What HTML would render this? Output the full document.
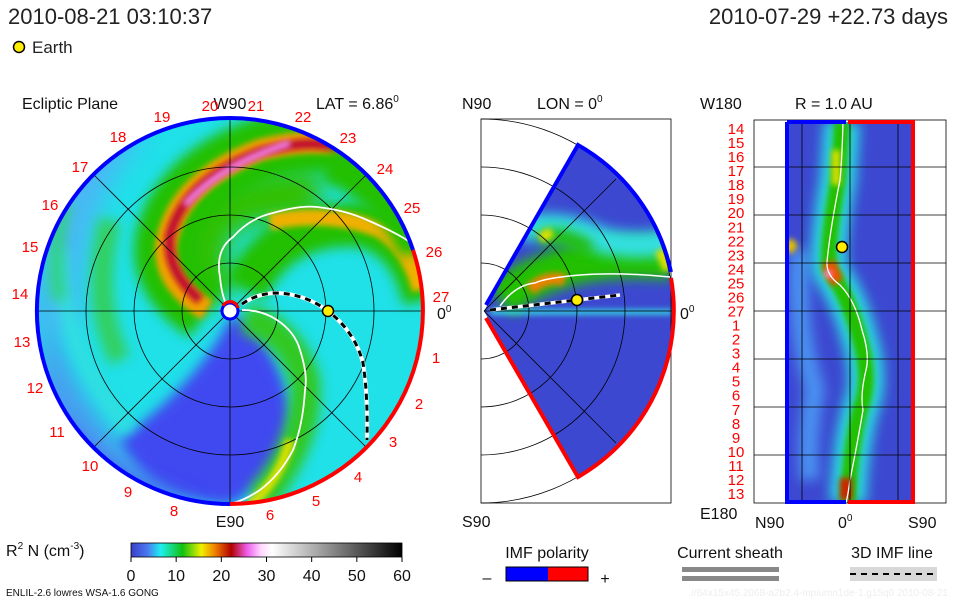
<!DOCTYPE html>
<html><head><meta charset="utf-8"><style>
html,body{margin:0;padding:0;background:#fff;}
svg{display:block;font-family:"Liberation Sans",sans-serif;}
</style></head><body>
<svg id="chart" width="960" height="600" viewBox="0 0 960 600" xmlns="http://www.w3.org/2000/svg">
<defs>
<filter id="b6" filterUnits="userSpaceOnUse" x="0" y="0" width="960" height="600"><feGaussianBlur stdDeviation="6"/></filter>
<filter id="b3" filterUnits="userSpaceOnUse" x="0" y="0" width="960" height="600"><feGaussianBlur stdDeviation="3"/></filter>
<filter id="b12" filterUnits="userSpaceOnUse" x="0" y="0" width="960" height="600"><feGaussianBlur stdDeviation="12"/></filter>
<clipPath id="disk"><circle cx="230" cy="311" r="193"/></clipPath>
<clipPath id="wedge"><path d="M484,311 L578,145 A192,192 0 0 1 578,477 Z"/></clipPath>
<clipPath id="rect"><rect x="786" y="122" width="128" height="381"/></clipPath>
<linearGradient id="cbar" x1="0" x2="1" y1="0" y2="0">
<stop offset="0" stop-color="#3a3ec8"/><stop offset="0.06" stop-color="#4a78f0"/><stop offset="0.11" stop-color="#1ef0f0"/>
<stop offset="0.19" stop-color="#10c010"/><stop offset="0.26" stop-color="#f0f000"/><stop offset="0.31" stop-color="#f08000"/>
<stop offset="0.37" stop-color="#b00000"/><stop offset="0.43" stop-color="#f060f0"/><stop offset="0.48" stop-color="#ffd8ff"/>
<stop offset="0.52" stop-color="#ffffff"/><stop offset="1" stop-color="#000000"/>
</linearGradient>
</defs>

<!-- header -->
<text x="8" y="24" font-size="22" fill="#222">2010-08-21 03:10:37</text>
<text x="948" y="24" font-size="22" fill="#222" text-anchor="end">2010-07-29 +22.73 days</text>
<circle cx="19" cy="47" r="5.5" fill="#ffee00" stroke="#000" stroke-width="1.5"/>
<text x="32" y="53" font-size="17" fill="#222">Earth</text>

<!-- left panel -->
<g>
<text x="22" y="109" font-size="16" fill="#111">Ecliptic Plane</text>
<text x="316" y="109" font-size="16" fill="#111">LAT = 6.86<tspan font-size="10" dy="-7">0</tspan></text>
<text x="230" y="109" font-size="16" fill="#111" text-anchor="middle">W90</text>
<text x="230" y="527" font-size="16" fill="#111" text-anchor="middle">E90</text>
<g clip-path="url(#disk)">
<rect x="30" y="110" width="400" height="400" fill="#20e0e8"/>
<path d="M40,240 Q50,420 200,505 L40,505 Z" fill="#4a9cf0" filter="url(#b12)"/>
<path d="M40,130 L150,130 Q80,200 80,330 L40,330 Z" fill="#48b8f4" filter="url(#b12)"/>
<path d="M230,318 Q200,380 120,440 Q150,500 230,505 Q290,470 290,410 Q280,350 240,318 Z" fill="#4048f0" filter="url(#b6)"/>
<path d="M60,420 Q100,480 200,505 L60,505 Z" fill="#4050ee" filter="url(#b12)"/>
<path d="M215,300 Q190,250 215,215 Q260,190 320,195" fill="none" stroke="#30c000" stroke-width="50" filter="url(#b12)"/>
<path d="M207,310 Q160,280 167,240 Q180,180 260,150 Q320,130 380,150" fill="none" stroke="#20c000" stroke-width="64" filter="url(#b6)"/>
<path d="M207,310 Q160,280 167,240 Q180,180 260,150 Q320,135 360,150" fill="none" stroke="#f0a000" stroke-width="22" filter="url(#b3)"/>
<path d="M200,300 Q165,270 170,235 Q185,180 260,152 Q310,138 340,148" fill="none" stroke="#c01030" stroke-width="10" filter="url(#b3)"/>
<path d="M185,205 Q220,165 290,143" fill="none" stroke="#f080e8" stroke-width="7" filter="url(#b3)"/>
<path d="M245,290 Q280,220 360,225 Q410,235 425,300" fill="none" stroke="#20c000" stroke-width="44" filter="url(#b6)"/>
<path d="M270,222 Q330,210 380,230 Q410,250 420,290" fill="none" stroke="#f0b000" stroke-width="16" filter="url(#b3)"/>
<path d="M330,160 Q400,190 420,250" fill="none" stroke="#20c000" stroke-width="44" filter="url(#b6)"/>
<path d="M245,318 Q290,330 305,380 Q310,440 260,500" fill="none" stroke="#30c820" stroke-width="30" filter="url(#b6)"/>
<path d="M290,440 Q280,480 250,505" fill="none" stroke="#d8e000" stroke-width="10" filter="url(#b3)"/>
<path d="M60,250 Q60,350 130,430" fill="none" stroke="#30e0e0" stroke-width="14" filter="url(#b6)"/>
<path d="M110,220 Q90,300 120,360" fill="none" stroke="#30d060" stroke-width="22" filter="url(#b6)"/>
<path d="M65,200 Q50,260 60,300" fill="none" stroke="#30d080" stroke-width="14" filter="url(#b6)"/>
</g>
<g fill="none" stroke="#000" stroke-width="0.8">
<circle cx="230" cy="311" r="48"/><circle cx="230" cy="311" r="96"/><circle cx="230" cy="311" r="144"/>
<line x1="37" y1="311" x2="423" y2="311"/><line x1="230" y1="118" x2="230" y2="504"/>
<line x1="93" y1="174" x2="367" y2="448"/><line x1="93" y1="448" x2="367" y2="174"/>
</g>
<path d="M220,277 Q215,250 233,237 Q250,218 273,213 Q300,205 317,207 Q345,210 367,220 Q395,232 410,242" fill="none" stroke="#fff" stroke-width="1.8"/>
<path d="M220,277 Q222,300 230,311" fill="none" stroke="#fff" stroke-width="1.8"/>
<path d="M242,310 Q262,310 277,320 Q295,332 300,350 Q308,375 305,390 Q303,425 293,450 Q280,475 260,490 Q245,500 233,503" fill="none" stroke="#fff" stroke-width="1.8"/>
<path d="M242,304 Q258,293 277,293 Q305,294 328,311 Q355,332 363,363 Q368,395 367,440" fill="none" stroke="#fff" stroke-width="4"/>
<path d="M242,304 Q258,293 277,293 Q305,294 328,311 Q355,332 363,363 Q368,395 367,440" fill="none" stroke="#000" stroke-width="3" stroke-dasharray="6,5"/>
<path d="M413,250 A193,193 0 0 1 230,504" fill="none" stroke="#f00" stroke-width="4"/>
<path d="M230,504 A193,193 0 1 1 413,250" fill="none" stroke="#00f" stroke-width="4"/>
<circle cx="230" cy="311" r="8" fill="#fff" stroke="#00f" stroke-width="3"/>
<path d="M223,306 A8,8 0 0 1 238,308" fill="none" stroke="#f00" stroke-width="3"/>
<circle cx="328" cy="311" r="5.5" fill="#ffee00" stroke="#000" stroke-width="1.5"/>
<g font-size="15" fill="#f00" text-anchor="middle">
<text x="441" y="302">27</text><text x="434" y="257">26</text><text x="412" y="213">25</text><text x="385" y="174">24</text>
<text x="348" y="143">23</text><text x="303" y="122">22</text><text x="256" y="111">21</text><text x="210" y="111">20</text>
<text x="162" y="122">19</text><text x="118" y="142">18</text><text x="80" y="172">17</text><text x="50" y="210">16</text>
<text x="30" y="252">15</text><text x="20" y="299">14</text><text x="22" y="347">13</text><text x="35" y="393">12</text>
<text x="57" y="437">11</text><text x="90" y="471">10</text><text x="128" y="497">9</text><text x="174" y="516">8</text>
<text x="270" y="520">6</text><text x="316" y="506">5</text><text x="358" y="482">4</text><text x="393" y="447">3</text>
<text x="419" y="409">2</text><text x="436" y="363">1</text>
</g>
<text x="437" y="319" font-size="16" fill="#111">0<tspan font-size="10" dy="-7">0</tspan></text>
</g>

<!-- middle panel -->
<g>
<text x="462" y="109" font-size="16" fill="#111">N90</text>
<text x="537" y="109" font-size="16" fill="#111">LON = 0<tspan font-size="10" dy="-7">0</tspan></text>
<text x="462" y="527" font-size="16" fill="#111">S90</text>
<text x="680" y="319" font-size="16" fill="#111">0<tspan font-size="10" dy="-7">0</tspan></text>
<g clip-path="url(#wedge)">
<rect x="480" y="140" width="200" height="340" fill="#3c48d0"/>
<path d="M500,300 Q560,250 672,260" fill="none" stroke="#20c000" stroke-width="40" filter="url(#b6)"/>
<path d="M520,230 Q560,220 600,240 Q640,250 672,240" fill="none" stroke="#30e0e0" stroke-width="26" filter="url(#b6)"/>
<path d="M540,240 Q560,230 590,250" fill="none" stroke="#20c000" stroke-width="16" filter="url(#b6)"/>
<path d="M540,238 L552,232" fill="none" stroke="#e0e000" stroke-width="10" filter="url(#b3)"/>
<path d="M530,290 Q545,275 565,280" fill="none" stroke="#f08000" stroke-width="12" filter="url(#b3)"/>
<path d="M660,250 L668,270" fill="none" stroke="#e0e000" stroke-width="10" filter="url(#b3)"/>
<path d="M490,312 L672,312" fill="none" stroke="#30e0e0" stroke-width="5" filter="url(#b3)"/>
</g>
<g fill="none" stroke="#000" stroke-width="0.8">
<rect x="481" y="119" width="190" height="384"/>
<path d="M481,263 A48,48 0 0 1 481,359"/><path d="M481,215 A96,96 0 0 1 481,407"/>
<path d="M481,167 A144,144 0 0 1 481,455"/><path d="M481,119 A192,192 0 0 1 481,503"/>
<line x1="484" y1="311" x2="672" y2="311"/><line x1="484" y1="311" x2="616" y2="179"/><line x1="484" y1="311" x2="616" y2="443"/>
</g>
<path d="M500,306 Q515,285 535,283 Q545,278 580,275 Q620,272 670,277" fill="none" stroke="#fff" stroke-width="1.5"/>
<path d="M490,310 L577,300 L620,295" fill="none" stroke="#fff" stroke-width="3.5"/>
<path d="M490,310 L577,300 L620,295" fill="none" stroke="#000" stroke-width="3" stroke-dasharray="6,5"/>
<path d="M486,305 L578,145 A192,192 0 0 1 671,272" fill="none" stroke="#00f" stroke-width="4"/>
<path d="M671,278 A192,192 0 0 1 578,477 L486,318" fill="none" stroke="#f00" stroke-width="4"/>
<circle cx="577" cy="300" r="5.5" fill="#ffee00" stroke="#000" stroke-width="1.5"/>
</g>

<!-- right panel -->
<g>
<text x="795" y="109" font-size="16" fill="#111">R = 1.0 AU</text>
<text x="700" y="109" font-size="16" fill="#111">W180</text>
<text x="700" y="519" font-size="16" fill="#111">E180</text>
<text x="755" y="528" font-size="16" fill="#111">N90</text>
<text x="838" y="528" font-size="16" fill="#111">0<tspan font-size="10" dy="-7">0</tspan></text>
<text x="908" y="528" font-size="16" fill="#111">S90</text>
<g clip-path="url(#rect)">
<rect x="786" y="122" width="128" height="381" fill="#3c48d0"/>
<path d="M800,250 Q795,330 815,390 Q805,440 810,480" stroke="#4a90f0" stroke-width="20" fill="none" filter="url(#b6)"/>
<path d="M842,122 L838,180 Q826,250 830,270 Q850,300 860,340 Q872,380 860,410 Q850,450 848,503" fill="none" stroke="#2ad8e0" stroke-width="36" filter="url(#b6)"/>
<path d="M842,122 L838,180 Q826,250 830,270 Q850,300 860,340 Q872,380 860,410 Q850,450 848,503" fill="none" stroke="#20c000" stroke-width="16" filter="url(#b3)"/>
<path d="M836,150 L836,185" stroke="#e0e000" stroke-width="8" filter="url(#b3)"/>
<path d="M829,262 Q832,275 838,282" stroke="#f05000" stroke-width="14" filter="url(#b3)"/>
<circle cx="828" cy="274" r="4" fill="#ff90f0" filter="url(#b3)"/>
<path d="M846,478 L846,500" stroke="#d02000" stroke-width="12" filter="url(#b3)"/>
<circle cx="790" cy="246" r="7" fill="#e0c000" filter="url(#b3)"/>
</g>
<path d="M843,122 Q842,160 840,180 Q830,230 827,262 Q826,275 840,285 Q855,300 862,330 Q870,355 866,370 Q860,395 863,410 Q858,440 850,480 Q848,495 846,503" fill="none" stroke="#fff" stroke-width="1.3"/>
<g stroke="#000" stroke-width="0.8" fill="none">
<rect x="754" y="120" width="192" height="383"/>
<line x1="754" y1="167" x2="946" y2="167"/><line x1="754" y1="215" x2="946" y2="215"/>
<line x1="754" y1="263" x2="946" y2="263"/><line x1="754" y1="311" x2="946" y2="311"/>
<line x1="754" y1="359" x2="946" y2="359"/><line x1="754" y1="407" x2="946" y2="407"/>
<line x1="754" y1="455" x2="946" y2="455"/>
<line x1="802" y1="120" x2="802" y2="503"/><line x1="850" y1="120" x2="850" y2="503"/><line x1="898" y1="120" x2="898" y2="503"/>
</g>
<path d="M787,122 L787,502 L846,502 M846,122 L787,122" fill="none" stroke="#00f" stroke-width="4"/>
<path d="M848,122 L913,122 L913,502 L848,502" fill="none" stroke="#f00" stroke-width="4"/>
<circle cx="842" cy="247" r="5.5" fill="#ffee00" stroke="#000" stroke-width="1.5"/>
<g id="daylabels" font-size="15" fill="#f00" text-anchor="middle"></g>
</g>

<!-- colorbar -->
<g>
<text x="6" y="556" font-size="16" fill="#111">R<tspan font-size="10" dy="-7">2</tspan><tspan dy="7"> N (cm</tspan><tspan font-size="10" dy="-7">-3</tspan><tspan dy="7">)</tspan></text>
<rect x="131" y="543" width="271" height="14" fill="url(#cbar)" stroke="#000" stroke-width="0.8"/>
<g id="cbticks"></g>
</g>
<text x="6" y="596" font-size="10" fill="#111">ENLIL-2.6 lowres WSA-1.6 GONG</text>
<text x="948" y="596" font-size="10" fill="#eee" text-anchor="end">.//64x15x45.2068-a2b2.4-mpiumn1de-1.g15q0  2010-08-21</text>

<!-- legend -->
<g>
<text x="547" y="558" font-size="16" fill="#111" text-anchor="middle">IMF polarity</text>
<text x="487" y="583" font-size="16" fill="#111" text-anchor="middle">–</text>
<rect x="506" y="567" width="42" height="14" fill="#00f"/><rect x="548" y="567" width="40" height="14" fill="#f00"/>
<rect x="506" y="567" width="82" height="14" fill="none" stroke="#000" stroke-width="1"/>
<text x="605" y="584" font-size="16" fill="#111" text-anchor="middle">+</text>
</g>
<g>
<text x="730" y="558" font-size="16" fill="#111" text-anchor="middle">Current sheath</text>
<rect x="682" y="567" width="97" height="5" fill="#888"/><rect x="682" y="576" width="97" height="5" fill="#888"/>
</g>
<g>
<text x="892" y="558" font-size="16" fill="#111" text-anchor="middle">3D IMF line</text>
<rect x="850" y="567" width="87" height="14" fill="#d8d8d8"/>
<line x1="850" y1="574" x2="937" y2="574" stroke="#000" stroke-width="2" stroke-dasharray="6,5"/>
</g>
</svg>
<script>
const cbTicks = [0, 10, 20, 30, 40, 50, 60];
const dayLabels = [14,15,16,17,18,19,20,21,22,23,24,25,26,27,1,2,3,4,5,6,7,8,9,10,11,12,13];
const NS = 'http://www.w3.org/2000/svg';
const cbx = v => 131 + (v / 60) * 271;
const cbg = document.getElementById('cbticks');
cbTicks.forEach(v => {
  const l = document.createElementNS(NS, 'line');
  l.setAttribute('x1', cbx(v)); l.setAttribute('x2', cbx(v));
  l.setAttribute('y1', 557); l.setAttribute('y2', 562);
  l.setAttribute('stroke', '#000');
  
  
  cbg.appendChild(l);
  const t = document.createElementNS(NS, 'text');
  t.setAttribute('x', cbx(v)); t.setAttribute('y', 581);
  t.setAttribute('font-size', 16); t.setAttribute('text-anchor', 'middle'); t.setAttribute('fill', '#111');
  t.textContent = v;
  
  
  cbg.appendChild(t);
});
const dg = document.getElementById('daylabels');
const dy = i => 129 + i * (494 - 129) / (dayLabels.length - 1);
dayLabels.forEach((d, i) => {
  const t = document.createElementNS(NS, 'text');
  t.setAttribute('x', 736); t.setAttribute('y', dy(i) + 5);
  t.textContent = d;
  
  
  dg.appendChild(t);
});
</script>
</body></html>
